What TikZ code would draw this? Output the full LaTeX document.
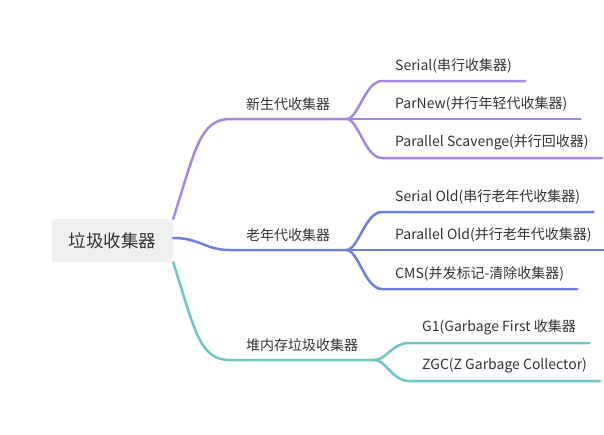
\documentclass[tikz,border=0pt]{standalone}
\usepackage{fontspec}
\setmainfont{Noto Sans CJK SC}
\usetikzlibrary{positioning,calc}

\definecolor{rootfill}{RGB}{238,240,239}
\definecolor{txtgray}{RGB}{51,51,51}
\definecolor{brpurple}{RGB}{165,135,225}
\definecolor{brblue}{RGB}{110,128,220}
\definecolor{brteal}{RGB}{112,198,198}

\begin{document}
\begin{tikzpicture}[
  x=1pt, y=-1pt,
  every node/.style={text=txtgray},
  rootbox/.style={fill=rootfill, rounded corners=3pt, minimum width=121pt,
    minimum height=43pt, font=\fontsize{17.5}{20}\selectfont},
  branchlbl/.style={anchor=south west, inner xsep=16pt, inner ysep=0pt,
    minimum height=30pt, font=\fontsize{14}{16}\selectfont},
  leaflbl/.style={anchor=south west, inner xsep=13pt, inner ysep=0pt,
    minimum height=30pt, font=\fontsize{14}{16}\selectfont},
  link/.style={line width=2.5pt, line cap=round}
]
\useasboundingbox (0,0) rectangle (604,434);
\node[rootbox] (root) at (112.5,240.5) {垃圾收集器};
\node[branchlbl] (br-young) at (230,119) {新生代收集器};
\node[leaflbl] (leaf-young-0) at (382,81) {Serial(串行收集器)};
\node[leaflbl] (leaf-young-1) at (382,119) {ParNew(并行年轻代收集器)};
\node[leaflbl] (leaf-young-2) at (382,158) {Parallel Scavenge(并行回收器)};
\node[branchlbl] (br-old) at (230,250) {老年代收集器};
\node[leaflbl] (leaf-old-0) at (382,212) {Serial Old(串行老年代收集器)};
\node[leaflbl] (leaf-old-1) at (382,250) {Parallel Old(并行老年代收集器)};
\node[leaflbl] (leaf-old-2) at (382,289) {CMS(并发标记-清除收集器)};
\node[branchlbl] (br-heap) at (230,360) {堆内存垃圾收集器};
\node[leaflbl] (leaf-heap-0) at (409,343) {G1(Garbage First 收集器};
\node[leaflbl] (leaf-heap-1) at (409,381) {ZGC(Z Garbage Collector)};
% root -> branches
\draw[link, brpurple] (root.north east) .. controls +(22,-69) and +(-30,0) .. (br-young.south west) -- (br-young.south east);
\draw[link, brblue] ([yshift=2.5pt]root.east) .. controls +(27,0) and +(-25,0) .. (br-old.south west) -- (br-old.south east);
\draw[link, brteal] (root.south east) .. controls +(22,70) and +(-30,0) .. (br-heap.south west) -- (br-heap.south east);
% branches -> leaves
\foreach \i in {0,1,2} {
  \draw[link, brpurple] (br-young.south east) .. controls +(12,0) and +(-17,0) .. (leaf-young-\i.south west) -- (leaf-young-\i.south east);
  \draw[link, brblue] (br-old.south east) .. controls +(12,0) and +(-17,0) .. (leaf-old-\i.south west) -- (leaf-old-\i.south east);
}
\foreach \i in {0,1} {
  \draw[link, brteal] (br-heap.south east) .. controls +(12,0) and +(-17,0) .. (leaf-heap-\i.south west) -- (leaf-heap-\i.south east);
}
\end{tikzpicture}
\end{document}
